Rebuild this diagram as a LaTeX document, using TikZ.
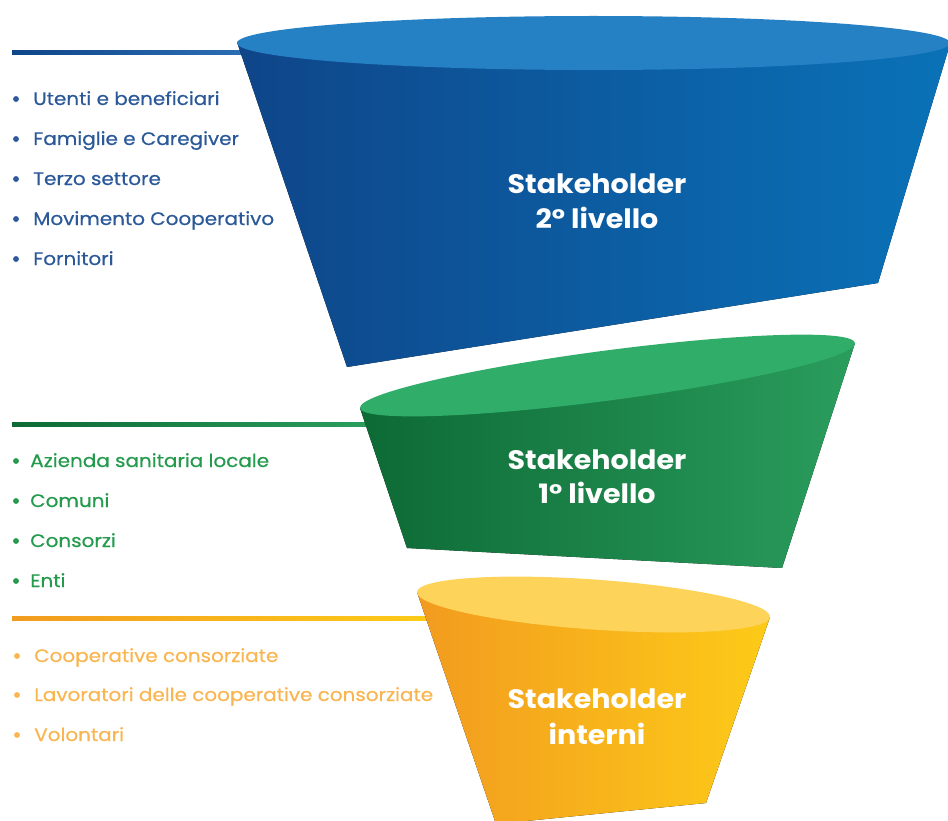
\documentclass[tikz,border=0pt]{standalone}
\usepackage{fontspec}
\setmainfont{Poppins}
\newfontfamily\itemfont[FakeStretch=1.1, FakeBold=0.6]{Poppins}
\newfontfamily\titlefont[FakeStretch=1.07]{Poppins}
\definecolor{bluetop}{HTML}{2680C4}
\definecolor{blueL}{HTML}{0F4589}
\definecolor{blueM}{HTML}{1C5A9C}
\definecolor{blueR}{HTML}{0A72B8}
\definecolor{bluetxt}{HTML}{2A5898}
\definecolor{blueline}{HTML}{2C6EB3}
\definecolor{greentop}{HTML}{30AD69}
\definecolor{greenL}{HTML}{0D6A35}
\definecolor{greenM}{HTML}{138043}
\definecolor{greenR}{HTML}{2A9D5D}
\definecolor{greentxt}{HTML}{249A4D}
\definecolor{yeltop}{HTML}{FDD35A}
\definecolor{yelL}{HTML}{F29B1F}
\definecolor{yelR}{HTML}{FDCB18}
\definecolor{yeltxt}{HTML}{F8B550}
\begin{document}
\begin{tikzpicture}[x=0.75pt,y=-0.75pt,
  itemtxt/.style={anchor=base west, inner sep=0pt, font=\itemfont\fontsize{13.6}{16}\selectfont},
  titletxt/.style={anchor=base, inner sep=0pt, text=white, font=\titlefont\fontsize{20}{24}\selectfont\bfseries},
  bul/.style={circle, inner sep=0pt, minimum size=4.4pt}]
\useasboundingbox (0,0) rectangle (948,820);
\clip (0,0) rectangle (948,820);

% ---------- connector lines ----------
\coordinate (lb0) at (12,53);
\coordinate (lg0) at (12,424);
\coordinate (ly0) at (12,618);
\fill[left color=blueL, right color=blueline] (12,51) rectangle (242,55);
\fill[left color=greenL, right color=greenR] (12,422) rectangle (367,426);
\fill[left color=yelL, right color=yelR] (12,616) rectangle (428,620);

% ---------- blue funnel ----------
\coordinate (bA) at (237,42);
\coordinate (bB) at (347,367);
\coordinate (bC) at (878,283);
\coordinate (bD) at (950,44);
\fill[left color=blueL, middle color=blueM, right color=blueR] (bA) -- (bB) -- (bC) -- (bD) -- cycle;
\fill[bluetop] (593.5,43) ellipse [x radius=356.5, y radius=27];

% ---------- green funnel ----------
\coordinate (gA) at (360,408);
\coordinate (gB) at (407,548);
\coordinate (gC) at (782,568);
\coordinate (gD) at (855,343);
\fill[left color=greenL, middle color=greenM, right color=greenR] (gA) -- (gB) -- (gC) -- (gD) -- cycle;
\fill[greentop, rotate around={7.48:(607.5,375.5)}] (607.5,375.5) ellipse [x radius=249.6, y radius=25];

% ---------- yellow funnel ----------
\coordinate (yA) at (417,592);
\coordinate (yB) at (496,824);
\coordinate (yC) at (706,803);
\coordinate (yD) at (770,617);
\fill[left color=yelL, right color=yelR] (yA) -- (yB) -- (yC) -- (yD) -- cycle;
\fill[yeltop, rotate around={-4.05:(593.5,604.5)}] (593.5,604.5) ellipse [x radius=176.9, y radius=25];

% ---------- titles ----------
\node[titletxt] (t2a) at (597,193) {Stakeholder};
\node[titletxt] (t2b) at (597,228) {2° livello};
\node[titletxt] (t1a) at (597,469) {Stakeholder};
\node[titletxt] (t1b) at (597,503) {1° livello};
\node[titletxt] (tia) at (597,708) {Stakeholder};
\node[titletxt] (tib) at (597,744) {interni};

% ---------- blue list ----------
\foreach \y/\t [count=\i] in {105/Utenti e beneficiari, 145/Famiglie e Caregiver, 185/Terzo settore, 225/Movimento Cooperativo, 265/Fornitori}{
  \node[bul, fill=bluetxt] (bb\i) at (16,\y-6) {};
  \node[itemtxt, text=bluetxt] (bt\i) at (33,\y) {\t};
}
% ---------- green list ----------
\foreach \y/\t [count=\i] in {467/Azienda sanitaria locale, 507/Comuni, 547/Consorzi, 587/Enti}{
  \node[bul, fill=greentxt] (gb\i) at (16,\y-6) {};
  \node[itemtxt, text=greentxt] (gt\i) at (30,\y) {\t};
}
% ---------- yellow list ----------
\foreach \y/\t [count=\i] in {662/Cooperative consorziate, 701/Lavoratori delle cooperative consorziate, 741/Volontari}{
  \node[bul, fill=yeltxt] (yb\i) at (17,\y-6) {};
  \node[itemtxt, text=yeltxt] (yt\i) at (34,\y) {\t};
}
\end{tikzpicture}
\end{document}
